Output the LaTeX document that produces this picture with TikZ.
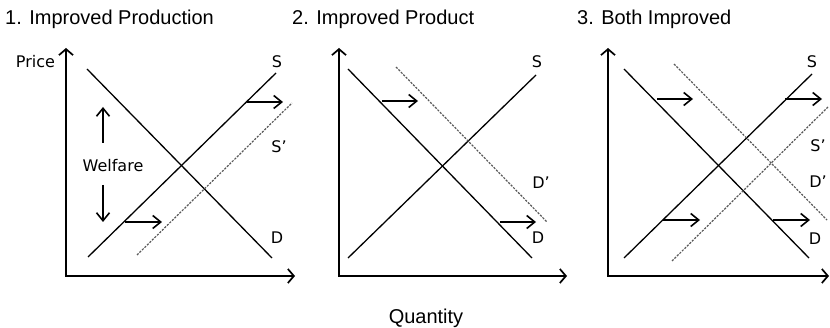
\documentclass[tikz,border=0pt]{standalone}
\usepackage{fontspec}
\setmainfont{Liberation Sans}
\newfontfamily\lblfont{DejaVu Sans}
\usetikzlibrary{arrows.meta}
\begin{document}
\begin{tikzpicture}[x=1pt,y=-1pt,
 axis/.style={line width=1.7pt,{Straight Barb[length=6pt,width=14pt]}-{Straight Barb[length=6pt,width=14pt]}},
 curve/.style={line width=1.3pt},
 shifted/.style={line width=1.2pt,black!65,dash pattern=on 2.2pt off 1.3pt},
 shiftarrow/.style={line width=1.6pt,-{Straight Barb[length=8pt,width=13pt]}},
 lbl/.style={font=\lblfont\fontsize{16}{18}\selectfont,inner sep=0pt},
 ttl/.style={font=\fontsize{20}{24}\selectfont,inner sep=0pt,anchor=base west}]
\useasboundingbox (0,0) rectangle (830,328);
% ---------- Panel 1 ----------
\node[ttl] (t1) at (5,25) {1. Improved Production};
\coordinate (y1) at (66,48); \coordinate (o1) at (66,276); \coordinate (x1) at (295,276);
\draw[axis] (y1) -- (o1) -- (x1);
\node[lbl] (price) at (35.5,61.5) {Price};
\coordinate (d1a) at (87,69); \coordinate (d1b) at (272,258);
\coordinate (s1a) at (88,257); \coordinate (s1b) at (276,73);
\coordinate (sp1a) at (137,255); \coordinate (sp1b) at (292,103);
\draw[curve] (d1a) -- (d1b);
\draw[curve] (s1a) -- (s1b);
\draw[shifted] (sp1a) -- (sp1b);
\node[lbl] (S1) at (277,61.5) {S};
\node[lbl] (Sp1) at (279,147) {S’};
\node[lbl] (D1) at (277,237.5) {D};
\coordinate (a1s) at (247,102); \coordinate (a1e) at (283,102);
\coordinate (a2s) at (125,222); \coordinate (a2e) at (162,222);
\draw[shiftarrow] (a1s) -- (a1e);
\draw[shiftarrow] (a2s) -- (a2e);
\node[lbl] (wel) at (113,166) {Welfare};
\coordinate (u1s) at (103,143); \coordinate (u1e) at (103,107);
\coordinate (w1s) at (103,185); \coordinate (w1e) at (103,222);
\draw[shiftarrow] (u1s) -- (u1e);
\draw[shiftarrow] (w1s) -- (w1e);
% ---------- Panel 2 ----------
\node[ttl] (t2) at (292,25) {2. Improved Product};
\coordinate (y2) at (339,48); \coordinate (o2) at (339,276); \coordinate (x2) at (567,276);
\draw[axis] (y2) -- (o2) -- (x2);
\coordinate (d2a) at (348,69); \coordinate (d2b) at (532,258);
\coordinate (s2a) at (348,258); \coordinate (s2b) at (536,75);
\coordinate (dp2a) at (396,67); \coordinate (dp2b) at (547,222);
\draw[curve] (d2a) -- (d2b);
\draw[curve] (s2a) -- (s2b);
\draw[shifted] (dp2a) -- (dp2b);
\node[lbl] (S2) at (537,61.5) {S};
\node[lbl] (Dp2) at (541,183) {D’};
\node[lbl] (D2) at (538,238) {D};
\coordinate (b1s) at (382,101); \coordinate (b1e) at (418,101);
\coordinate (b2s) at (500,222); \coordinate (b2e) at (536,222);
\draw[shiftarrow] (b1s) -- (b1e);
\draw[shiftarrow] (b2s) -- (b2e);
\node[font=\fontsize{20}{24}\selectfont,inner sep=0pt,anchor=base] (q) at (426,324) {Quantity};
% ---------- Panel 3 ----------
\node[ttl] (t3) at (577,25) {3. Both Improved};
\coordinate (y3) at (608,48); \coordinate (o3) at (608,276); \coordinate (x3) at (829,276);
\draw[axis] (y3) -- (o3) -- (x3);
\coordinate (d3a) at (624,69); \coordinate (d3b) at (809,258);
\coordinate (s3a) at (624,258); \coordinate (s3b) at (812,74);
\coordinate (dp3a) at (674,64); \coordinate (dp3b) at (827,220);
\coordinate (sp3a) at (672,261); \coordinate (sp3b) at (828,107);
\draw[curve] (d3a) -- (d3b);
\draw[curve] (s3a) -- (s3b);
\draw[shifted] (dp3a) -- (dp3b);
\draw[shifted] (sp3a) -- (sp3b);
\node[lbl] (S3) at (812,61.5) {S};
\node[lbl] (Sp3) at (818,146) {S’};
\node[lbl] (Dp3) at (818,182) {D’};
\node[lbl] (D3) at (815,239) {D};
\coordinate (c1s) at (657,99); \coordinate (c1e) at (693,99);
\coordinate (c2s) at (785,99); \coordinate (c2e) at (822,99);
\coordinate (c3s) at (663,220); \coordinate (c3e) at (700,220);
\coordinate (c4s) at (773,220); \coordinate (c4e) at (810,220);
\draw[shiftarrow] (c1s) -- (c1e);
\draw[shiftarrow] (c2s) -- (c2e);
\draw[shiftarrow] (c3s) -- (c3e);
\draw[shiftarrow] (c4s) -- (c4e);
\end{tikzpicture}
\end{document}
